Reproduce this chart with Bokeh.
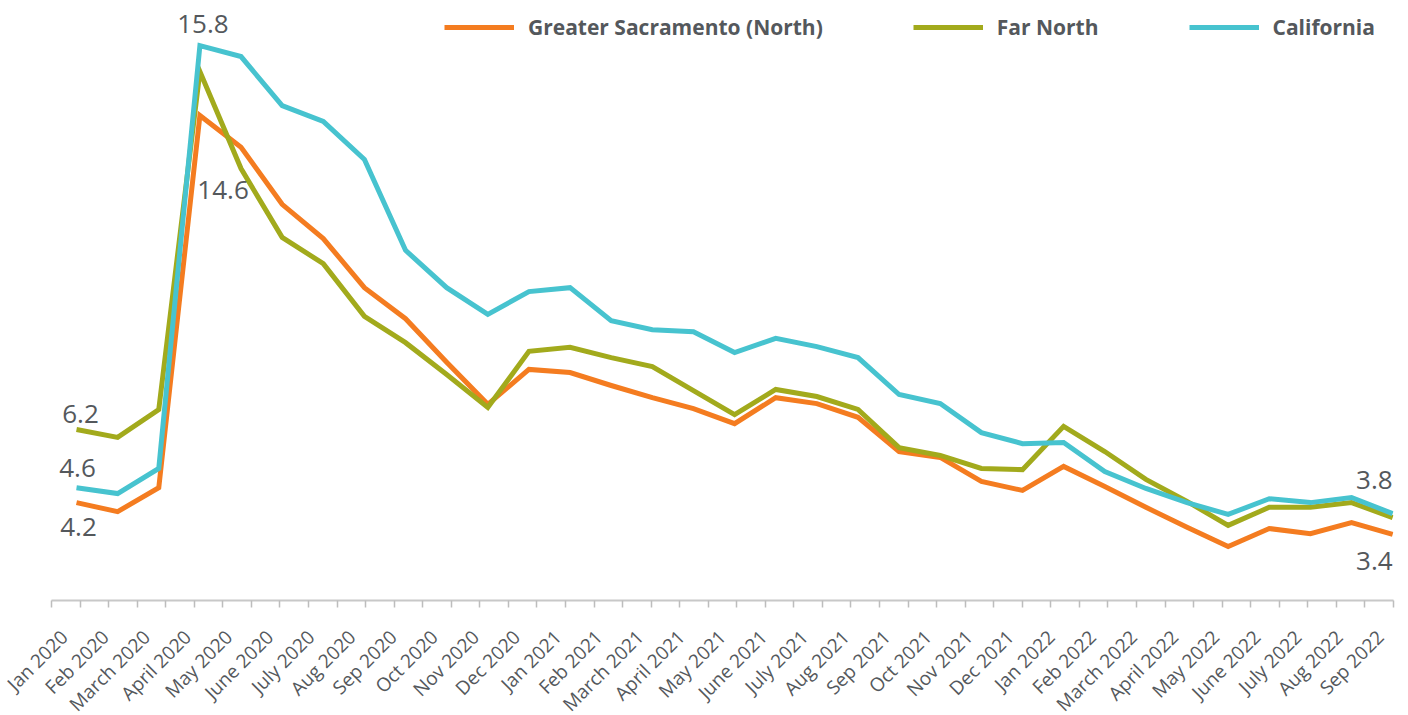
import numpy as np
from bokeh.plotting import figure
from bokeh.models import ColumnDataSource, Range1d, FixedTicker, Legend, LegendItem
from bokeh.core.properties import value
from bokeh.embed import file_html
from bokeh.resources import INLINE

months = ["Jan 2020", "Feb 2020", "March 2020", "April 2020", "May 2020", "June 2020",
          "July 2020", "Aug 2020", "Sep 2020", "Oct 2020", "Nov 2020", "Dec 2020",
          "Jan 2021", "Feb 2021", "March 2021", "April 2021", "May 2021", "June 2021",
          "July 2021", "Aug 2021", "Sep 2021", "Oct 2021", "Nov 2021", "Dec 2021",
          "Jan 2022", "Feb 2022", "March 2022", "April 2022", "May 2022", "June 2022",
          "July 2022", "Aug 2022", "Sep 2022"]

sacramento = [4.17, 3.94, 4.55, 14.02, 13.21, 11.76, 10.89, 9.64, 8.85, 7.74, 6.67, 7.56,
              7.48, 7.15, 6.84, 6.56, 6.18, 6.84, 6.69, 6.34, 5.47, 5.32, 4.71, 4.48,
              5.09, 4.58, 4.05, 3.54, 3.05, 3.51, 3.38, 3.66, 3.36]
far_north = [6.03, 5.83, 6.54, 15.14, 12.67, 10.92, 10.25, 8.91, 8.24, 7.43, 6.59, 8.02,
             8.12, 7.86, 7.63, 7.02, 6.41, 7.05, 6.87, 6.54, 5.57, 5.37, 5.04, 5.01,
             6.11, 5.47, 4.76, 4.20, 3.59, 4.05, 4.05, 4.17, 3.79]
california = [4.55, 4.40, 5.04, 15.80, 15.52, 14.27, 13.87, 12.90, 10.59, 9.64, 8.96, 9.54,
              9.64, 8.80, 8.57, 8.52, 7.99, 8.35, 8.14, 7.86, 6.92, 6.69, 5.95, 5.67,
              5.70, 4.96, 4.53, 4.17, 3.87, 4.27, 4.17, 4.30, 3.89]

series_names = ["Greater Sacramento (North)", "Far North", "California"]
series_colors = ["#F47C20", "#A2AA1C", "#47C3CF"]

annot_text = ["15.8", "14.6", "6.2", "4.6", "4.2", "3.8", "3.4"]

TEXT = "#54585C"

x = list(range(len(months)))
x_start, x_end = -0.608, 32.02
label_shift = -0.3

p = figure(frame_width=1342, frame_height=600, output_backend="svg", toolbar_location=None,
           x_range=Range1d(x_start, x_end), y_range=Range1d(1.679, 16.947),
           min_border_left=51, min_border_right=8, min_border_top=0, min_border_bottom=105,
           outline_line_color=None, background_fill_color="white", border_fill_color="white")
p.grid.visible = False
p.yaxis.visible = False

renderers = []
for vals, col in zip([sacramento, far_north, california], series_colors):
    r = p.line(x, vals, line_color=col, line_width=5, line_join="miter")
    renderers.append(r)

# x axis
ax = p.xaxis[0]
ax.ticker = FixedTicker(ticks=[i + label_shift for i in x],
                        minor_ticks=list(np.linspace(x_start, x_end, 48)))
ax.major_label_overrides = {i + label_shift: m for i, m in enumerate(months)}
ax.major_label_orientation = np.pi / 4
ax.major_tick_out = 0
ax.major_tick_in = 0
ax.minor_tick_out = 7
ax.minor_tick_in = 0
ax.minor_tick_line_color = "#BDBDBD"
ax.minor_tick_line_width = 1.5
ax.axis_line_color = "#C8C8C8"
ax.axis_line_width = 2
ax.major_label_text_font = "Open Sans"
ax.major_label_text_font_size = "19px"
ax.major_label_text_color = TEXT
ax.major_label_standoff = 26

# annotations
ann_idx = [3, 4, 0, 0, 0, 32, 32]
ann_series = [california, far_north, far_north, california, sacramento, california, sacramento]
ann_dx = [3, -18, 4, 1, 2, 0, 0]
ann_dy = [-22, 21, -16, -20, 24, -34, 27]
ann_align = ["center", "center", "center", "center", "center", "right", "right"]
src = ColumnDataSource(dict(
    x=ann_idx, y=[s[i] for s, i in zip(ann_series, ann_idx)], text=annot_text,
    dx=ann_dx, dy=ann_dy, align=ann_align))
p.text(x="x", y="y", text="text", x_offset="dx", y_offset="dy", text_align="align",
       text_baseline="middle", text_font=value("Open Sans"), text_font_size="26px",
       text_color=TEXT, source=src)

legend = Legend(items=[LegendItem(label=n, renderers=[r]) for n, r in zip(series_names, renderers)],
                orientation="horizontal", location=(393, 559), padding=0, margin=0,
                spacing=90, label_standoff=14, glyph_width=70, glyph_height=20,
                label_text_font="Open Sans", label_text_font_style="bold",
                label_text_font_size="21px", label_text_color=TEXT,
                background_fill_alpha=0, border_line_color=None)
p.add_layout(legend)

open("out.html", "w").write(file_html(p, INLINE))
